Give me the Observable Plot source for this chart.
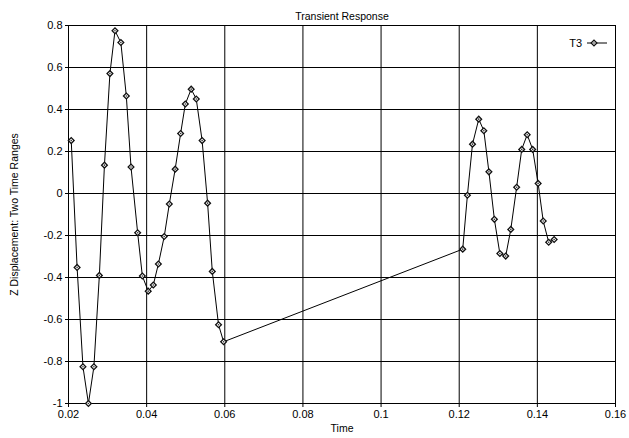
<!DOCTYPE html>
<html>
<head>
<meta charset="utf-8">
<script src="https://cdn.jsdelivr.net/npm/d3@7"></script>
<script src="https://cdn.jsdelivr.net/npm/@observablehq/plot@0.6"></script>
<style>
  html, body { margin: 0; padding: 0; background: #fff; }
  #chart svg { display: block; }
</style>
</head>
<body>
<div id="chart"></div>
<script>
// Transient response of node T3 sampled over two separate time windows
const seriesName = "T3";

const time = [
  0.0207, 0.0222, 0.0237, 0.0251, 0.0265, 0.0279, 0.0292, 0.0306, 0.0319, 0.0334,
  0.0348, 0.0360, 0.0377, 0.0389, 0.0404, 0.0417, 0.0430, 0.0445, 0.0458, 0.0473,
  0.0487, 0.0499, 0.0514, 0.0527, 0.0542, 0.0556, 0.0568, 0.0584, 0.0597,
  0.1209, 0.1221, 0.1234, 0.1250, 0.1263, 0.1276, 0.1290, 0.1304, 0.1319, 0.1332,
  0.1347, 0.1360, 0.1374, 0.1388, 0.1402, 0.1415, 0.1429, 0.1443
];

const zDisplacement = [
  0.252, -0.352, -0.825, -1.0, -0.825, -0.39, 0.135, 0.571, 0.775, 0.719,
  0.464, 0.126, -0.187, -0.393, -0.465, -0.436, -0.336, -0.205, -0.05, 0.116,
  0.286, 0.426, 0.497, 0.45, 0.252, -0.046, -0.371, -0.625, -0.706,
  -0.265, -0.008, 0.235, 0.354, 0.299, 0.103, -0.123, -0.286, -0.298, -0.171,
  0.030, 0.21, 0.28, 0.21, 0.048, -0.131, -0.232, -0.219
];

const xTicks = [0.02, 0.04, 0.06, 0.08, 0.1, 0.12, 0.14, 0.16];
const yTicks = [-1, -0.8, -0.6, -0.4, -0.2, 0, 0.2, 0.4, 0.6, 0.8];

const titleText = "Transient Response";
const xLabel = "Time";
const yLabel = "Z Displacement: Two Time Ranges";

const data = time.map((t, i) => ({t, z: zDisplacement[i]}));
const fmt = d => String(+d.toFixed(2));

const W = 629, H = 438;
const M = {left: 68, right: 14, top: 25, bottom: 35};
const markerR = 2.3;

const chart = Plot.plot({
  width: W,
  height: H,
  marginLeft: M.left,
  marginRight: M.right,
  marginTop: M.top,
  marginBottom: M.bottom,
  style: {fontFamily: "'Liberation Sans', Arial, sans-serif", fontSize: "11px", color: "#000", background: "#fff", overflow: "visible"},
  x: {domain: [0.02, 0.16]},
  y: {domain: [-1, 0.8]},
  marks: [
    Plot.gridX(xTicks, {stroke: "#000", strokeOpacity: 1, strokeWidth: 1}),
    Plot.gridY(yTicks, {stroke: "#000", strokeOpacity: 1, strokeWidth: 1}),
    Plot.frame({stroke: "#000", strokeWidth: 1}),
    Plot.axisX(xTicks, {tickSize: 4, tickPadding: 3, tickFormat: fmt, label: null}),
    Plot.axisY(yTicks, {tickSize: 3, tickPadding: 3, tickFormat: fmt, label: null}),
    Plot.line(data, {x: "t", y: "z", stroke: "#000", strokeWidth: 1}),
    // hollow diamond marker with a small dark centre
    Plot.dot(data, {x: "t", y: "z", symbol: "square", r: markerR, rotate: 45, fill: "#fff", stroke: "#111", strokeWidth: 1.3}),
    Plot.dot(data, {x: "t", y: "z", r: 0.8, fill: "#333", stroke: null}),
    Plot.text([titleText], {text: d => d, frameAnchor: "top", dy: -13, fontSize: 10.5}),
    Plot.text([xLabel], {text: d => d, frameAnchor: "bottom", dy: 28, fontSize: 10.5}),
    Plot.text([yLabel], {text: d => d, frameAnchor: "left", textAnchor: "middle", rotate: -90, dx: -54, fontSize: 10.5})
  ]
});

// Legend in the upper-right corner of the plotting area
const svg = d3.select(chart);
const lx = W - M.right - 21, ly = M.top + 18;
const legend = svg.append("g").attr("transform", `translate(${lx},${ly})`);
legend.append("text")
  .attr("x", -12).attr("y", 0).attr("dy", "0.35em")
  .attr("text-anchor", "end")
  .attr("font-size", 11)
  .attr("fill", "#000")
  .text(seriesName);
legend.append("line")
  .attr("x1", -7).attr("x2", 13).attr("y1", 0).attr("y2", 0)
  .attr("stroke", "#000");
legend.append("path")
  .attr("d", d3.symbol(d3.symbolSquare, markerR * markerR * Math.PI)())
  .attr("transform", "rotate(45)")
  .attr("fill", "#fff").attr("stroke", "#111").attr("stroke-width", 1.3);
legend.append("circle")
  .attr("r", 0.8).attr("fill", "#333");

document.getElementById("chart").appendChild(chart);
</script>
</body>
</html>
